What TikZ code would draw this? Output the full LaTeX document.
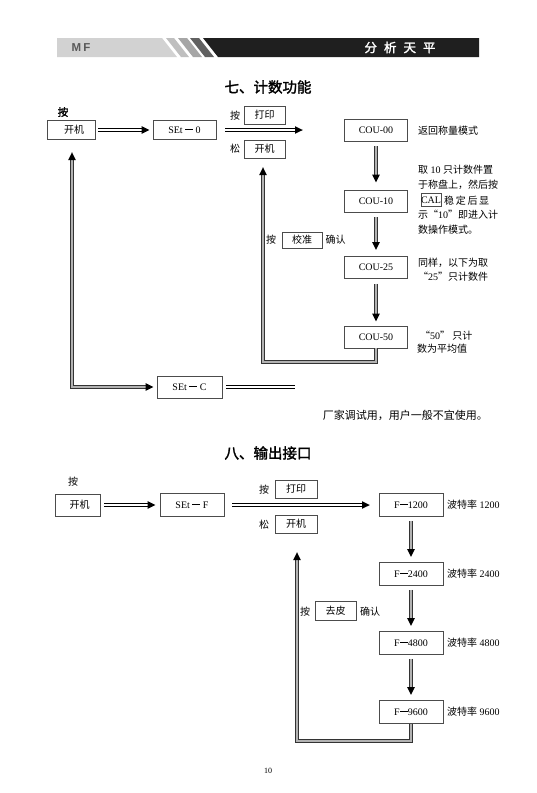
\documentclass[tikz,border=0pt]{standalone}
\usepackage{fontspec}
\setmainfont{Liberation Serif}
\newfontfamily\cjk{Noto Sans CJK SC}
\newfontfamily\cjkb[FakeBold=2]{Noto Sans CJK SC}
\newfontfamily\hsans{Liberation Sans}
\usetikzlibrary{arrows.meta,decorations.markings,calc}
\newcommand\dashbar{\rule[3pt]{8pt}{1pt}}
\begin{document}
\begin{tikzpicture}[x=1pt,y=-1pt,
  every node/.style={font=\fontsize{10}{12}\selectfont, inner sep=0pt},
  box/.style={draw=black!70, line width=0.7pt, inner sep=0pt},
  lbl/.style={font=\cjk\fontsize{10}{12}\selectfont},
  side/.style={anchor=west, font=\fontsize{10}{12}\selectfont},
  hdbl/.style={draw=black, line width=1pt, double=white, double distance=1.6pt},
  vdbl/.style={draw=black!80, line width=1pt, double=gray!60, double distance=1.8pt},
  tipE/.style={shorten >=6pt, postaction={decorate,decoration={markings,mark=at position 1 with {\arrow[black]{Triangle[width=7pt,length=8pt]}}}}},
  tipS/.style={shorten <=6pt, postaction={decorate,decoration={markings,mark=at position 0 with {\arrowreversed[black]{Triangle[width=7pt,length=8pt]}}}}}
]
\useasboundingbox (0,0) rectangle (536,793);
\fill[white] (0,0) rectangle (536,793);

% header
\fill[gray!35] (57,38) -- (162,38) -- (177,57) -- (57,57) -- cycle;
\fill[gray!50] (166,38) -- (174,38) -- (189,57) -- (181,57) -- cycle;
\fill[gray!70] (178,38) -- (187,38) -- (202,57) -- (193,57) -- cycle;
\fill[black!62] (190,38) -- (199,38) -- (214,57) -- (205,57) -- cycle;
\fill[black!88] (203,38) -- (479,38) -- (479,57) -- (218,57) -- cycle;
\node[font=\hsans\bfseries\fontsize{11.5}{13}\selectfont, text=black!65] (mf) at (81,48) {M\kern2pt F};
\node[font=\cjkb\fontsize{12.5}{14}\selectfont, text=white] (hd) at (400,47.5) {分\hspace{7pt}析\hspace{7pt}天\hspace{7pt}平};

% ===== section 7 =====
\node[font=\cjkb\fontsize{14.5}{16}\selectfont] (title1) at (268,87) {七、计数功能};
\node[font=\cjkb\fontsize{10.5}{12}\selectfont] (an0) at (63,112) {按};
\node[box, minimum width=48pt, minimum height=19pt, lbl] (kj1) at (71,130) {\hspace{6pt}开机};
\node[box, minimum width=63pt, minimum height=19pt] (set0) at (184.5,130) {SEt \dashbar{} 0};
\node[lbl] (an1) at (235,116) {按};
\node[box, minimum width=41pt, minimum height=18pt, lbl] (dy1) at (264.5,115) {打印};
\node[lbl] (song1) at (235,149) {松};
\node[box, minimum width=41pt, minimum height=18pt, lbl] (kj2) at (264.5,149) {开机};
\coordinate (a2) at (303,130);

\node[box, minimum width=63pt, minimum height=22pt] (cou00) at (376,130) {COU-00};
\node[box, minimum width=63pt, minimum height=22pt] (cou10) at (376,201) {COU-10};
\node[box, minimum width=63pt, minimum height=22pt] (cou25) at (376,267.5) {COU-25};
\node[box, minimum width=63pt, minimum height=22pt] (cou50) at (376,337) {COU-50};

\node[side, lbl] (tx0) at (418,131) {返回称量模式};
\node[side] (tx1) at (418,170) {{\cjk 取} 10 {\cjk 只计数件置}};
\node[side, lbl] (tx2) at (418,185) {于称盘上，然后按};
\node[box, minimum width=20pt, minimum height=13pt] (cal) at (431,200) {CAL};
\node[side, lbl] (tx3) at (444,200.5) {稳\,定\,后\,显};
\node[side] (tx4) at (418,215) {{\cjk 示“}10{\cjk ”即进入计}};
\node[side, lbl] (tx5) at (418,230) {数操作模式。};
\node[side, lbl] (tx6) at (418,263) {同样，以下为取};
\node[side] (tx7) at (418,277) {{\cjk “}25{\cjk ”只计数件}};
\node[side] (tx8) at (420,336) {{\cjk “}50{\cjk ”\ 只计}};
\node[side, lbl] (tx9) at (417,349) {数为平均值};

\node[lbl] (an2) at (271,240) {按};
\node[box, minimum width=40pt, minimum height=16pt, lbl] (jz) at (302,240) {校准};
\node[lbl] (qr1) at (335.5,240) {确认};

\node[box, minimum width=65pt, minimum height=22pt] (setc) at (189.5,387) {SEt \dashbar{} C};
\node[font=\cjk\fontsize{11}{13}\selectfont, anchor=east] (note) at (488,415) {厂家调试用，用户一般不宜使用。};

\coordinate (t1) at (72,152);
\coordinate (t2) at (263,167);
\coordinate (r1) at (263,362);
\coordinate (e1) at (295,387);

\draw[hdbl, tipE] ([xshift=3pt]kj1.east) -- ([xshift=-3pt]set0.west);
\draw[hdbl, tipE] ([xshift=9pt]set0.east) -- (a2);
\draw[vdbl, tipE] ([yshift=-5pt]cou00.south) -- ([yshift=7pt]cou10.north);
\draw[vdbl, tipE] ([yshift=-5pt]cou10.south) -- ([yshift=6pt]cou25.north);
\draw[vdbl, tipE] ([yshift=-5pt]cou25.south) -- ([yshift=4pt]cou50.north);
\draw[vdbl, tipE] (cou50.south) |- (r1) -- (t2);
\draw[vdbl, tipS, tipE] (t1) |- ([xshift=-3pt]setc.west);
\draw[hdbl] ([xshift=4pt]setc.east) -- (e1);

% ===== section 8 =====
\node[font=\cjkb\fontsize{14.5}{16}\selectfont] (title2) at (268,453) {八、输出接口};
\node[lbl] (an3) at (73,482) {按};
\node[box, minimum width=45pt, minimum height=22pt, lbl] (kj3) at (77.5,505) {\hspace{4pt}开机};
\node[box, minimum width=64pt, minimum height=23pt] (setf) at (192,505) {SEt \dashbar{} F};
\node[lbl] (an4) at (264,490) {按};
\node[box, minimum width=42pt, minimum height=18pt, lbl] (dy2) at (296,489) {打印};
\node[lbl] (song2) at (264,525) {松};
\node[box, minimum width=42pt, minimum height=18pt, lbl] (kj4) at (296,524) {开机};
\node[lbl] (an5) at (305,612) {按};
\node[box, minimum width=41pt, minimum height=19pt, lbl] (qp) at (335.5,611) {去皮};
\node[lbl] (qr2) at (370,612) {确认};

\node[box, minimum width=64pt, minimum height=23pt] (f12) at (411,505) {F\dashbar 1200};
\node[box, minimum width=64pt, minimum height=23pt] (f24) at (411,574) {F\dashbar 2400};
\node[box, minimum width=64pt, minimum height=23pt] (f48) at (411,643) {F\dashbar 4800};
\node[box, minimum width=64pt, minimum height=23pt] (f96) at (411,712) {F\dashbar 9600};
\node[side] (b12) at (447,505) {{\cjk 波特率} 1200};
\node[side] (b24) at (447,574) {{\cjk 波特率} 2400};
\node[side] (b48) at (447,643) {{\cjk 波特率} 4800};
\node[side] (b96) at (447,712) {{\cjk 波特率} 9600};

\coordinate (a3) at (370,505);
\coordinate (t3) at (297,552);
\coordinate (r2) at (297,741);

\draw[hdbl, tipE] ([xshift=4pt]kj3.east) -- ([xshift=-4pt]setf.west);
\draw[hdbl, tipE] ([xshift=8pt]setf.east) -- (a3);
\draw[vdbl, tipE] ([yshift=-4pt]f12.south) -- ([yshift=5pt]f24.north);
\draw[vdbl, tipE] ([yshift=-4pt]f24.south) -- ([yshift=5pt]f48.north);
\draw[vdbl, tipE] ([yshift=-4pt]f48.south) -- ([yshift=5pt]f96.north);
\draw[vdbl, tipE] (f96.south) |- (r2) -- (t3);

\node[font=\fontsize{8}{10}\selectfont] (pg) at (268,771) {10};
\end{tikzpicture}
\end{document}
